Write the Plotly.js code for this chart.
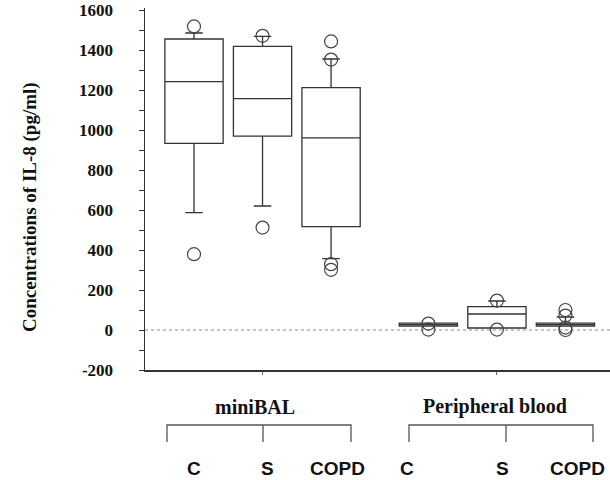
<!DOCTYPE html>
<html>
<head>
<meta charset="utf-8">
<script src="https://cdn.plot.ly/plotly-3.0.1.min.js"></script>
<style>html,body{margin:0;padding:0;background:#fff}#chart{width:610px;height:480px}</style>
</head>
<body>
<div id="chart"></div>
<script>
// ---- data ----
const groups = ["miniBAL", "Peripheral blood"];
const categories = ["C", "S", "COPD", "C", "S", "COPD"];
const groupOf = [0, 0, 0, 1, 1, 1];
const q1Values = [933, 969, 517, 19, 10, 19];
const medianValues = [1242, 1157, 961, 27, 80, 27];
const q3Values = [1455, 1418, 1212, 34, 117, 34];
const lowerWhisker = [587, 620, 357, 19, 10, 19];
const upperWhisker = [1485, 1468, 1355, 34, 145, 65];
const outlierValues = [
  [1518, 379],
  [1471, 512],
  [1443, 1352, 329, 301],
  [32, 2],
  [147, 2],
  [100, 72, 12, 0]
];
const yTickValues = [-200, 0, 200, 400, 600, 800, 1000, 1200, 1400, 1600];

// ---- layout helpers (positions, not data) ----
const groupOffset = 3.42;
const xPos = categories.map((c, i) => (i % 3) + groupOf[i] * groupOffset);
const outX = [], outY = [];
outlierValues.forEach((arr, i) => arr.forEach(v => { outX.push(xPos[i]); outY.push(v); }));

const L = 145, T = 8, W = 465, H = 362;
const px = x => (x - L) / W;          // pixel x -> paper x
const py = y => (T + H - y) / H;      // pixel y -> paper y

const lineCol = '#333';
const traces = [
  {
    type: 'box',
    x: xPos,
    q1: q1Values, median: medianValues, q3: q3Values,
    lowerfence: lowerWhisker, upperfence: upperWhisker,
    boxpoints: false,
    width: 0.85,
    whiskerwidth: 0.3,
    fillcolor: 'rgba(255,255,255,0)',
    line: {color: lineCol, width: 1.3},
    hoverinfo: 'skip',
    showlegend: false
  },
  {
    type: 'scatter', mode: 'markers',
    x: outX, y: outY,
    marker: {symbol: 'circle-open', size: 13, color: '#444', line: {width: 1.2, color: '#444'}},
    showlegend: false, hoverinfo: 'skip'
  }
];

const serif = 'Liberation Serif, Times New Roman, serif';
const sans = 'Liberation Sans, Arial, sans-serif';

const annotations = [
  {text: '<b>Concentrations of IL-8 (pg/ml)</b>', xref: 'paper', yref: 'paper',
   x: px(30), y: py(207), xanchor: 'center', yanchor: 'middle', textangle: -90, showarrow: false,
   font: {family: serif, size: 19, color: '#111'}}
];
const groupLabelX = [255, 495];
groups.forEach((g, i) => annotations.push({
  text: '<b>' + g + '</b>', xref: 'paper', yref: 'paper', x: px(groupLabelX[i]), y: py(407),
  xanchor: 'center', yanchor: 'middle',
  showarrow: false, font: {family: serif, size: 20, color: '#111'}
}));
const catShift = [0, 5, 6, -21, 6, 12];
categories.forEach((c, i) => annotations.push({
  text: '<b>' + c + '</b>', xref: 'x', yref: 'paper', x: xPos[i], xshift: catShift[i], y: py(468),
  xanchor: 'center', yanchor: 'middle',
  showarrow: false, font: {family: sans, size: 19, color: '#111'}
}));

const shapes = [
  {type: 'line', xref: 'paper', yref: 'y', x0: 0, x1: 1, y0: 0, y1: 0,
   line: {color: '#888', width: 1, dash: 'dot'}, layer: 'below'}
];
const brackets = [[167, 263, 351], [409, 506, 593]];
brackets.forEach(b => {
  const yTop = py(425), yBot = py(442);
  shapes.push({type: 'path', xref: 'paper', yref: 'paper',
    path: `M ${px(b[0])} ${yBot} L ${px(b[0])} ${yTop} L ${px(b[2])} ${yTop} L ${px(b[2])} ${yBot} M ${px(b[1])} ${yTop} L ${px(b[1])} ${yBot}`,
    line: {color: '#555', width: 1.3}});
});

const layout = {
  width: 610, height: 480,
  margin: {l: L, r: 610 - L - W, t: T, b: 480 - T - H, pad: 0},
  paper_bgcolor: '#fff', plot_bgcolor: '#fff',
  showlegend: false,
  xaxis: {
    range: [-0.715, 6.07], showgrid: false, zeroline: false,
    showline: true, linecolor: '#333', linewidth: 1.5,
    tickvals: [xPos[1], xPos[4]], ticks: 'outside', ticklen: 3, tickcolor: '#666',
    showticklabels: false, fixedrange: true
  },
  yaxis: {
    range: [-200, 1610], showgrid: false, zeroline: false,
    showline: true, linecolor: '#333', linewidth: 1.5,
    tickvals: yTickValues, ticktext: yTickValues.map(v => String(v)),
    ticks: 'outside', ticklen: 5, tickcolor: '#333', tickwidth: 1,
    minor: {dtick: 100, tick0: 0, ticks: 'outside', ticklen: 5, tickcolor: '#333', tickwidth: 1},
    ticklabelstandoff: 22,
    tickfont: {family: serif, size: 17, color: '#111', weight: 'bold'},
    fixedrange: true
  },
  annotations: annotations,
  shapes: shapes
};

Plotly.newPlot('chart', traces, layout, {staticPlot: true, displayModeBar: false});
</script>
</body>
</html>
